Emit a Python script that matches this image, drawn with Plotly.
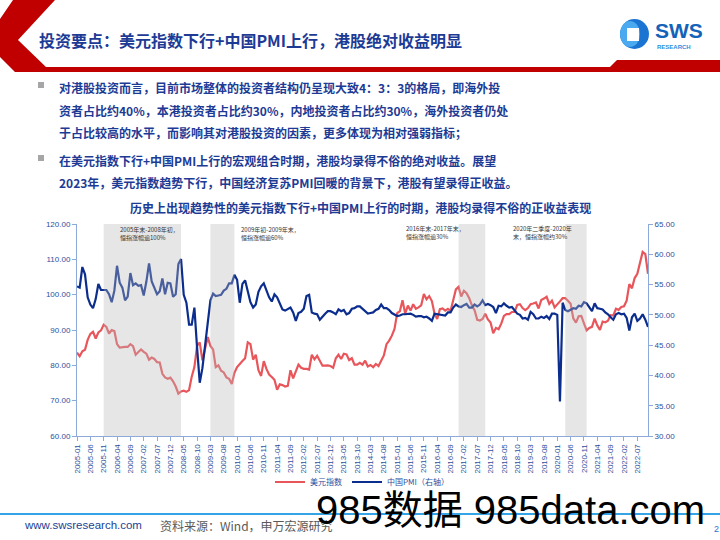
import plotly.graph_objects as go

# ---------------- data ----------------
months = [f"{y}-{m:02d}" for y in range(2005, 2023) for m in range(1, 13)][:215]

usd_2005 = [83.6, 82.6, 84.0, 84.4, 87.2, 88.9, 89.5, 87.6, 89.3, 89.9, 91.5, 90.9]
usd_2006 = [89.0, 90.0, 89.7, 86.0, 85.0, 85.2, 85.2, 85.2, 86.0, 85.4, 83.0, 83.8]
usd_2007 = [84.5, 83.8, 83.3, 81.6, 82.2, 81.8, 80.9, 80.8, 77.6, 76.6, 76.2, 76.5]
usd_2008 = [75.5, 74.0, 72.0, 72.6, 72.8, 72.5, 73.0, 76.8, 79.5, 85.5, 86.5, 81.4]
usd_2009 = [85.0, 88.0, 85.5, 84.5, 79.5, 80.0, 78.5, 78.0, 76.6, 76.2, 74.7, 77.9]
usd_2010 = [79.5, 80.5, 81.2, 82.0, 86.5, 86.0, 81.6, 83.0, 78.6, 77.0, 81.2, 79.0]
usd_2011 = [77.4, 76.7, 75.9, 73.1, 74.6, 74.4, 74.0, 74.2, 78.6, 76.3, 78.3, 80.2]
usd_2012 = [79.3, 79.0, 79.0, 78.8, 83.0, 81.7, 82.7, 81.2, 79.9, 79.9, 80.0, 79.8]
usd_2013 = [79.3, 82.0, 83.0, 81.8, 83.3, 83.1, 81.5, 82.0, 80.2, 80.2, 80.7, 80.2]
usd_2014 = [81.3, 79.7, 80.1, 79.5, 80.4, 79.8, 81.5, 82.8, 86.0, 87.0, 88.4, 90.3]
usd_2015 = [94.8, 95.3, 98.4, 94.6, 96.9, 95.5, 97.3, 96.0, 96.4, 97.0, 100.2, 98.7]
usd_2016 = [99.6, 98.2, 94.6, 93.1, 95.9, 96.1, 95.5, 96.0, 95.4, 98.4, 101.5, 102.2]
usd_2017 = [99.5, 101.1, 100.4, 99.0, 97.0, 95.6, 92.9, 92.7, 93.1, 94.6, 93.0, 92.1]
usd_2018 = [89.1, 90.6, 90.2, 91.8, 94.0, 94.5, 94.5, 95.1, 95.1, 97.1, 97.3, 96.2]
usd_2019 = [95.6, 96.2, 97.3, 97.5, 97.8, 96.1, 98.5, 98.9, 99.4, 97.4, 98.3, 96.4]
usd_2020 = [97.4, 98.1, 99.0, 99.0, 98.3, 97.4, 93.3, 92.1, 93.9, 94.0, 91.9, 89.9]
usd_2021 = [90.6, 90.9, 93.2, 91.3, 90.0, 92.4, 92.2, 92.6, 94.2, 94.1, 96.0, 95.7]
usd_2022 = [96.5, 96.7, 98.3, 103.0, 101.8, 104.7, 105.9, 108.7, 112.1, 111.5, 105.9]

pmi_2005 = [54.7, 54.5, 57.9, 56.7, 52.9, 51.7, 51.1, 52.6, 55.1, 54.1, 54.1, 54.1]
pmi_2006 = [53.4, 52.1, 54.0, 58.1, 55.3, 54.5, 52.4, 53.0, 56.9, 54.9, 55.2, 54.8]
pmi_2007 = [54.9, 53.2, 55.5, 58.5, 55.5, 54.4, 53.4, 53.9, 56.0, 53.4, 55.3, 55.2]
pmi_2008 = [53.0, 53.4, 58.4, 59.2, 53.3, 52.0, 48.4, 48.4, 51.2, 44.6, 38.8, 41.2]
pmi_2009 = [45.3, 49.0, 52.4, 53.5, 53.1, 53.2, 53.3, 54.0, 54.3, 55.2, 55.2, 56.6]
pmi_2010 = [55.8, 52.0, 55.1, 55.7, 53.9, 52.1, 51.2, 51.7, 53.8, 54.7, 55.2, 53.9]
pmi_2011 = [52.9, 52.2, 53.4, 52.9, 52.0, 50.9, 50.7, 50.9, 51.2, 50.4, 49.0, 50.3]
pmi_2012 = [50.5, 51.0, 53.1, 53.3, 50.4, 50.2, 50.1, 49.2, 49.8, 50.2, 50.6, 50.6]
pmi_2013 = [50.4, 50.1, 50.9, 50.6, 50.8, 50.1, 50.3, 51.0, 51.1, 51.4, 51.4, 51.0]
pmi_2014 = [50.5, 50.2, 50.3, 50.4, 50.8, 51.0, 51.7, 51.1, 51.1, 50.8, 50.3, 50.1]
pmi_2015 = [49.8, 49.9, 50.1, 50.1, 50.2, 50.2, 50.0, 49.7, 49.8, 49.8, 49.6, 49.7]
pmi_2016 = [49.4, 49.0, 50.2, 50.1, 50.1, 50.0, 49.9, 50.4, 50.4, 51.2, 51.7, 51.4]
pmi_2017 = [51.3, 51.6, 51.8, 51.2, 51.2, 51.7, 51.4, 51.7, 52.4, 51.6, 51.8, 51.6]
pmi_2018 = [51.3, 50.3, 51.5, 51.4, 51.9, 51.5, 51.2, 51.3, 50.8, 50.2, 50.0, 49.4]
pmi_2019 = [49.5, 49.2, 50.5, 50.1, 49.4, 49.4, 49.7, 49.5, 49.8, 49.3, 50.2, 50.2]
pmi_2020 = [50.0, 35.7, 52.0, 50.8, 50.6, 50.9, 51.1, 51.0, 51.5, 51.4, 52.1, 51.9]
pmi_2021 = [51.3, 50.6, 51.9, 51.1, 51.0, 50.9, 50.4, 50.1, 49.6, 49.2, 50.1, 50.3]
pmi_2022 = [50.1, 50.2, 49.5, 47.4, 49.6, 50.2, 49.0, 49.4, 50.1, 49.2, 48.0]

usd = (usd_2005 + usd_2006 + usd_2007 + usd_2008 + usd_2009 + usd_2010 + usd_2011 + usd_2012 + usd_2013
       + usd_2014 + usd_2015 + usd_2016 + usd_2017 + usd_2018 + usd_2019 + usd_2020 + usd_2021 + usd_2022)
pmi = (pmi_2005 + pmi_2006 + pmi_2007 + pmi_2008 + pmi_2009 + pmi_2010 + pmi_2011 + pmi_2012 + pmi_2013
       + pmi_2014 + pmi_2015 + pmi_2016 + pmi_2017 + pmi_2018 + pmi_2019 + pmi_2020 + pmi_2021 + pmi_2022)

tick_labels = months[::5]
series_names = ["美元指数", "中国PMI（右轴）"]

shade_periods = [("2005-11", "2008-04"), ("2009-03", "2009-12"), ("2016-12", "2017-10"), ("2020-04", "2020-12")]
shade_notes = [("2005年末-2008年初，", "恒指涨幅逾100%"),
               ("2009年初-2009年末，", "恒指涨幅逾60%"),
               ("2016年末-2017年末，", "恒指涨幅逾30%"),
               ("2020年二季度-2020年", "末，恒指涨幅约30%")]

title = "投资要点：美元指数下行+中国PMI上行，港股绝对收益明显"
bullets = [["对港股投资而言，目前市场整体的投资者结构仍呈现大致4：3：3的格局，即海外投",
            "资者占比约40%，本港投资者占比约30%，内地投资者占比约30%，海外投资者仍处",
            "于占比较高的水平，而影响其对港股投资的因素，更多体现为相对强弱指标；"],
           ["在美元指数下行+中国PMI上行的宏观组合时期，港股均录得不俗的绝对收益。展望",
            "2023年，美元指数趋势下行，中国经济复苏PMI回暖的背景下，港股有望录得正收益。"]]
chart_title = "历史上出现趋势性的美元指数下行+中国PMI上行的时期，港股均录得不俗的正收益表现"
source_text = "资料来源：Wind，申万宏源研究"
site_text = "www.swsresearch.com"
watermark = "985数据 985data.com"

# ---------------- layout helpers ----------------
W, H = 720, 540
L, R, T, B = 77, 648, 224, 436


def PX(x):
    return (x - L) / (R - L)


def PY(y):
    return (B - y) / (B - T)


CJK = "Noto Sans CJK SC"
SANS = "Liberation Sans, Noto Sans CJK SC"
DARKBLUE = "#1d3b95"
AXISBLUE = "#2d4f9e"
LINEBLUE = "#8eaadb"

fig = go.Figure()
fig.add_trace(go.Scatter(x=months, y=usd, mode="lines", name=series_names[0],
                         line=dict(color="#e8565b", width=2.2)))
fig.add_trace(go.Scatter(x=months, y=pmi, mode="lines", name=series_names[1], yaxis="y2",
                         line=dict(color="#0b2d8d", width=2.2)))

shapes = []
for a, b in shade_periods:
    shapes.append(dict(type="rect", xref="x", yref="paper", x0=months.index(a), x1=months.index(b),
                       y0=0, y1=1, fillcolor="rgba(185,185,185,0.36)", line=dict(width=0), layer="above"))


def path(pts):
    s = "M " + " L ".join(f"{PX(x):.5f},{PY(y):.5f}" for x, y in pts) + " Z"
    return s


# header red chevron + band
shapes.append(dict(type="path", xref="paper", yref="paper",
                   path=path([(13, 0), (55, 0), (18, 40), (46, 67), (610, 67), (617, 60), (720, 60),
                              (720, 72), (15, 72), (0, 57), (0, 19)]),
                   fillcolor="#c00000", line=dict(width=0), layer="above"))
# logo
shapes.append(dict(type="circle", xref="paper", yref="paper", x0=PX(620), x1=PX(649), y0=PY(19), y1=PY(49),
                   fillcolor="#1b74d2", line=dict(width=0), layer="above"))
shapes.append(dict(type="circle", xref="paper", yref="paper", x0=PX(620), x1=PX(640), y0=PY(21), y1=PY(47),
                   fillcolor="#4aa9ef", line=dict(width=0), layer="above"))
shapes.append(dict(type="rect", xref="paper", yref="paper", x0=PX(627), x1=PX(639), y0=PY(28), y1=PY(41),
                   fillcolor="white", line=dict(width=0), layer="above"))
# bullet squares
for yy in (85, 158):
    shapes.append(dict(type="rect", xref="paper", yref="paper", x0=PX(38), x1=PX(44), y0=PY(yy - 3), y1=PY(yy + 3),
                       fillcolor="#a6a6a6", line=dict(width=0), layer="above"))
# footer line
shapes.append(dict(type="line", xref="paper", yref="paper", x0=PX(0), x1=PX(720), y0=PY(514), y1=PY(514),
                   line=dict(color="#35a4e6", width=2), layer="above"))

ann = []
ann.append(dict(text=f"<b>{title}</b>", x=PX(37), y=PY(40), xanchor="left", yanchor="middle",
                font=dict(family=CJK, size=16, color=DARKBLUE)))
ann.append(dict(text="<b>SWS</b>", x=PX(653), y=PY(31), xanchor="left", yanchor="middle",
                font=dict(family="Liberation Sans", size=21, color="#1463b8")))
ann.append(dict(text="<b>RESEARCH</b>", x=PX(655), y=PY(46.5), xanchor="left", yanchor="middle",
                font=dict(family="Liberation Sans", size=6, color="#2b8fe0")))

line_y = [[88, 110, 132], [160, 182]]
for blines, ys in zip(bullets, line_y):
    for txt, yy in zip(blines, ys):
        ann.append(dict(text=f"<b>{txt}</b>", x=PX(57), y=PY(yy), xanchor="left", yanchor="middle",
                        font=dict(family=CJK, size=12, color=DARKBLUE)))

ann.append(dict(text=f"<b>{chart_title}</b>", x=PX(360), y=PY(207), xanchor="center", yanchor="middle",
                font=dict(family=CJK, size=12, color=DARKBLUE)))

note_pos = [(118, 228), (239, 228), (404, 227), (511, 227)]
for (l1, l2), (nx, ny) in zip(shade_notes, note_pos):
    ann.append(dict(text=f"{l1}<br>{l2}", x=PX(nx), y=PY(ny - 5), xanchor="left", yanchor="top", align="left",
                    font=dict(family=CJK, size=6, color="#333333")))

ann.append(dict(text=site_text, x=PX(22), y=PY(525), xanchor="left", yanchor="middle",
                font=dict(family="Liberation Sans", size=11.5, color="#1c3f94")))
ann.append(dict(text=source_text, x=PX(158), y=PY(525), xanchor="left", yanchor="middle",
                font=dict(family=CJK, size=12, color="#595959")))
ann.append(dict(text="2", x=PX(716), y=PY(529), xanchor="center", yanchor="middle",
                font=dict(family="Liberation Sans", size=9, color="#2b6fd0")))
ann.append(dict(text=watermark, x=PX(510), y=PY(510), xanchor="center", yanchor="middle",
                font=dict(family=SANS, size=40, color="black")))

for a in ann:
    a.update(xref="paper", yref="paper", showarrow=False)

axis_common = dict(showline=True, linecolor=LINEBLUE, linewidth=1, ticks="outside", ticklen=4,
                   tickcolor=LINEBLUE, showgrid=False, zeroline=False,
                   tickfont=dict(family=SANS, size=8, color=AXISBLUE))

fig.update_layout(
    width=W, height=H, margin=dict(l=L, r=W - R, t=T, b=H - B),
    paper_bgcolor="white", plot_bgcolor="white",
    xaxis=dict(type="category", range=[0, len(months) - 1], tickmode="array", tickvals=tick_labels,
               ticktext=tick_labels, tickangle=-90, **axis_common),
    yaxis=dict(range=[60, 120], dtick=10, tickformat=".2f", **axis_common),
    yaxis2=dict(range=[30, 65], dtick=5, tickformat=".2f", overlaying="y", side="right", **axis_common),
    legend=dict(orientation="h", x=PX(362), xanchor="center", y=PY(482), yanchor="middle",
                font=dict(family=CJK, size=8, color=AXISBLUE), bgcolor="rgba(0,0,0,0)",
                itemwidth=30, tracegroupgap=0),
    shapes=shapes, annotations=ann,
)

fig.write_html("out.html")
